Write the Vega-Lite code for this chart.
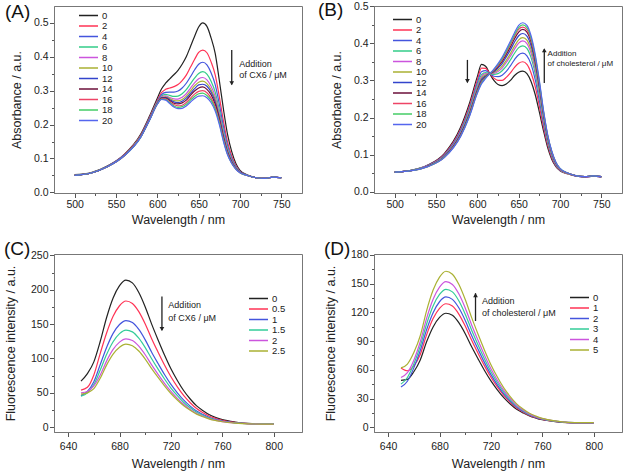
{
"$schema": "https://vega.github.io/schema/vega-lite/v6.json",
"background": "white",
"padding": {"left": 3, "top": 0, "right": 0, "bottom": 0},
"datasets": {
"A": [
{"w":500,"0":0.052,"2":0.051,"4":0.051,"6":0.050,"8":0.050,"10":0.050,"12":0.050,"14":0.050,"16":0.050,"18":0.050,"20":0.050},
{"w":520,"0":0.058,"2":0.057,"4":0.057,"6":0.057,"8":0.057,"10":0.057,"12":0.057,"14":0.057,"16":0.057,"18":0.057,"20":0.057},
{"w":540,"0":0.078,"2":0.077,"4":0.077,"6":0.076,"8":0.076,"10":0.076,"12":0.076,"14":0.076,"16":0.076,"18":0.076,"20":0.076},
{"w":560,"0":0.112,"2":0.111,"4":0.110,"6":0.109,"8":0.109,"10":0.109,"12":0.109,"14":0.108,"16":0.108,"18":0.108,"20":0.108},
{"w":580,"0":0.172,"2":0.169,"4":0.167,"6":0.166,"8":0.165,"10":0.165,"12":0.164,"14":0.164,"16":0.164,"18":0.163,"20":0.163},
{"w":590,"0":0.222,"2":0.218,"4":0.216,"6":0.214,"8":0.213,"10":0.212,"12":0.212,"14":0.211,"16":0.211,"18":0.210,"20":0.210},
{"w":600,"0":0.278,"2":0.271,"4":0.268,"6":0.266,"8":0.265,"10":0.264,"12":0.263,"14":0.262,"16":0.261,"18":0.261,"20":0.260},
{"w":605,"0":0.305,"2":0.294,"4":0.288,"6":0.284,"8":0.282,"10":0.280,"12":0.279,"14":0.278,"16":0.276,"18":0.275,"20":0.274},
{"w":610,"0":0.322,"2":0.304,"4":0.295,"6":0.289,"8":0.285,"10":0.282,"12":0.280,"14":0.278,"16":0.276,"18":0.274,"20":0.272},
{"w":615,"0":0.335,"2":0.308,"4":0.296,"6":0.286,"8":0.280,"10":0.277,"12":0.274,"14":0.271,"16":0.267,"18":0.265,"20":0.262},
{"w":620,"0":0.347,"2":0.312,"4":0.296,"6":0.283,"8":0.276,"10":0.271,"12":0.267,"14":0.263,"16":0.259,"18":0.255,"20":0.252},
{"w":625,"0":0.360,"2":0.318,"4":0.299,"6":0.284,"8":0.275,"10":0.270,"12":0.265,"14":0.261,"16":0.255,"18":0.251,"20":0.247},
{"w":630,"0":0.378,"2":0.330,"4":0.308,"6":0.291,"8":0.281,"10":0.274,"12":0.269,"14":0.264,"16":0.257,"18":0.253,"20":0.248},
{"w":635,"0":0.400,"2":0.346,"4":0.322,"6":0.303,"8":0.291,"10":0.284,"12":0.278,"14":0.272,"16":0.265,"18":0.260,"20":0.255},
{"w":640,"0":0.430,"2":0.369,"4":0.341,"6":0.320,"8":0.307,"10":0.299,"12":0.292,"14":0.286,"16":0.277,"18":0.272,"20":0.266},
{"w":645,"0":0.460,"2":0.392,"4":0.361,"6":0.337,"8":0.323,"10":0.314,"12":0.306,"14":0.299,"16":0.290,"18":0.283,"20":0.277},
{"w":650,"0":0.488,"2":0.413,"4":0.378,"6":0.351,"8":0.335,"10":0.325,"12":0.317,"14":0.308,"16":0.298,"18":0.291,"20":0.284},
{"w":655,"0":0.500,"2":0.420,"4":0.384,"6":0.356,"8":0.339,"10":0.328,"12":0.319,"14":0.311,"16":0.300,"18":0.293,"20":0.285},
{"w":660,"0":0.490,"2":0.412,"4":0.376,"6":0.349,"8":0.332,"10":0.321,"12":0.313,"14":0.304,"16":0.294,"18":0.286,"20":0.279},
{"w":665,"0":0.456,"2":0.385,"4":0.353,"6":0.328,"8":0.313,"10":0.303,"12":0.296,"14":0.288,"16":0.278,"18":0.272,"20":0.265},
{"w":670,"0":0.410,"2":0.347,"4":0.318,"6":0.296,"8":0.283,"10":0.274,"12":0.267,"14":0.260,"16":0.252,"18":0.246,"20":0.240},
{"w":675,"0":0.330,"2":0.282,"4":0.260,"6":0.243,"8":0.233,"10":0.226,"12":0.221,"14":0.216,"16":0.209,"18":0.205,"20":0.200},
{"w":680,"0":0.245,"2":0.210,"4":0.194,"6":0.181,"8":0.174,"10":0.169,"12":0.165,"14":0.161,"16":0.157,"18":0.153,"20":0.150},
{"w":685,"0":0.170,"2":0.148,"4":0.138,"6":0.130,"8":0.125,"10":0.122,"12":0.120,"14":0.117,"16":0.114,"18":0.112,"20":0.110},
{"w":690,"0":0.120,"2":0.107,"4":0.101,"6":0.097,"8":0.094,"10":0.092,"12":0.091,"14":0.089,"16":0.087,"18":0.086,"20":0.085},
{"w":695,"0":0.085,"2":0.079,"4":0.076,"6":0.074,"8":0.072,"10":0.071,"12":0.071,"14":0.070,"16":0.069,"18":0.069,"20":0.068},
{"w":700,"0":0.065,"2":0.062,"4":0.061,"6":0.060,"8":0.060,"10":0.059,"12":0.059,"14":0.059,"16":0.058,"18":0.058,"20":0.058},
{"w":710,"0":0.050,"2":0.049,"4":0.049,"6":0.049,"8":0.049,"10":0.049,"12":0.049,"14":0.049,"16":0.049,"18":0.049,"20":0.049},
{"w":720,"0":0.043,"2":0.043,"4":0.043,"6":0.043,"8":0.043,"10":0.043,"12":0.043,"14":0.043,"16":0.043,"18":0.043,"20":0.043},
{"w":730,"0":0.041,"2":0.041,"4":0.041,"6":0.041,"8":0.041,"10":0.041,"12":0.041,"14":0.041,"16":0.041,"18":0.041,"20":0.041},
{"w":740,"0":0.045,"2":0.045,"4":0.045,"6":0.045,"8":0.045,"10":0.045,"12":0.045,"14":0.045,"16":0.045,"18":0.045,"20":0.045},
{"w":750,"0":0.043,"2":0.043,"4":0.043,"6":0.043,"8":0.043,"10":0.043,"12":0.043,"14":0.043,"16":0.043,"18":0.043,"20":0.043}
],
"B": [
{"w":500,"0":0.053,"2":0.053,"4":0.053,"6":0.053,"8":0.053,"10":0.053,"12":0.053,"14":0.053,"16":0.053,"18":0.053,"20":0.053},
{"w":520,"0":0.058,"2":0.058,"4":0.058,"6":0.058,"8":0.057,"10":0.057,"12":0.057,"14":0.057,"16":0.057,"18":0.057,"20":0.057},
{"w":540,"0":0.072,"2":0.071,"4":0.071,"6":0.070,"8":0.070,"10":0.069,"12":0.069,"14":0.069,"16":0.068,"18":0.068,"20":0.068},
{"w":560,"0":0.103,"2":0.101,"4":0.099,"6":0.097,"8":0.096,"10":0.095,"12":0.094,"14":0.094,"16":0.093,"18":0.093,"20":0.092},
{"w":580,"0":0.175,"2":0.170,"4":0.166,"6":0.162,"8":0.160,"10":0.158,"12":0.156,"14":0.154,"16":0.152,"18":0.151,"20":0.150},
{"w":590,"0":0.235,"2":0.228,"4":0.222,"6":0.217,"8":0.213,"10":0.211,"12":0.208,"14":0.205,"16":0.203,"18":0.202,"20":0.200},
{"w":600,"0":0.310,"2":0.301,"4":0.293,"6":0.287,"8":0.282,"10":0.279,"12":0.275,"14":0.271,"16":0.269,"18":0.267,"20":0.265},
{"w":605,"0":0.343,"2":0.333,"4":0.323,"6":0.315,"8":0.310,"10":0.306,"12":0.302,"14":0.297,"16":0.295,"18":0.293,"20":0.290},
{"w":610,"0":0.338,"2":0.332,"4":0.326,"6":0.321,"8":0.318,"10":0.315,"12":0.312,"14":0.310,"16":0.308,"18":0.307,"20":0.305},
{"w":615,"0":0.318,"2":0.318,"4":0.318,"6":0.318,"8":0.318,"10":0.318,"12":0.318,"14":0.318,"16":0.318,"18":0.318,"20":0.318},
{"w":620,"0":0.300,"2":0.306,"4":0.311,"6":0.316,"8":0.319,"10":0.321,"12":0.323,"14":0.326,"16":0.327,"18":0.329,"20":0.330},
{"w":625,"0":0.289,"2":0.300,"4":0.310,"6":0.318,"8":0.324,"10":0.328,"12":0.333,"14":0.337,"16":0.340,"18":0.342,"20":0.345},
{"w":630,"0":0.286,"2":0.300,"4":0.314,"6":0.326,"8":0.333,"10":0.338,"12":0.345,"14":0.351,"16":0.355,"18":0.358,"20":0.362},
{"w":635,"0":0.290,"2":0.308,"4":0.324,"6":0.338,"8":0.348,"10":0.354,"12":0.363,"14":0.370,"16":0.375,"18":0.378,"20":0.383},
{"w":640,"0":0.300,"2":0.320,"4":0.339,"6":0.355,"8":0.365,"10":0.372,"12":0.382,"14":0.390,"16":0.396,"18":0.400,"20":0.405},
{"w":645,"0":0.313,"2":0.335,"4":0.356,"6":0.373,"8":0.384,"10":0.392,"12":0.403,"14":0.412,"16":0.418,"18":0.422,"20":0.428},
{"w":650,"0":0.322,"2":0.346,"4":0.369,"6":0.388,"8":0.400,"10":0.409,"12":0.420,"14":0.430,"16":0.437,"18":0.442,"20":0.448},
{"w":655,"0":0.325,"2":0.350,"4":0.373,"6":0.393,"8":0.406,"10":0.415,"12":0.426,"14":0.437,"16":0.443,"18":0.449,"20":0.455},
{"w":660,"0":0.318,"2":0.343,"4":0.366,"6":0.386,"8":0.399,"10":0.408,"12":0.419,"14":0.430,"16":0.436,"18":0.442,"20":0.448},
{"w":665,"0":0.297,"2":0.320,"4":0.343,"6":0.361,"8":0.373,"10":0.382,"12":0.393,"14":0.403,"16":0.409,"18":0.414,"20":0.420},
{"w":670,"0":0.262,"2":0.283,"4":0.302,"6":0.318,"8":0.329,"10":0.337,"12":0.346,"14":0.355,"16":0.360,"18":0.365,"20":0.370},
{"w":675,"0":0.215,"2":0.231,"4":0.246,"6":0.259,"8":0.268,"10":0.274,"12":0.281,"14":0.288,"16":0.292,"18":0.296,"20":0.300},
{"w":680,"0":0.165,"2":0.175,"4":0.185,"6":0.194,"8":0.199,"10":0.203,"12":0.208,"14":0.212,"16":0.215,"18":0.217,"20":0.220},
{"w":685,"0":0.120,"2":0.127,"4":0.133,"6":0.138,"8":0.142,"10":0.144,"12":0.147,"14":0.150,"16":0.152,"18":0.153,"20":0.155},
{"w":690,"0":0.088,"2":0.092,"4":0.096,"6":0.099,"8":0.102,"10":0.103,"12":0.105,"14":0.107,"16":0.108,"18":0.109,"20":0.110},
{"w":695,"0":0.068,"2":0.070,"4":0.072,"6":0.074,"8":0.075,"10":0.076,"12":0.077,"14":0.078,"16":0.079,"18":0.079,"20":0.080},
{"w":700,"0":0.057,"2":0.058,"4":0.059,"6":0.060,"8":0.061,"10":0.061,"12":0.062,"14":0.062,"16":0.062,"18":0.063,"20":0.063},
{"w":710,"0":0.048,"2":0.048,"4":0.049,"6":0.049,"8":0.049,"10":0.049,"12":0.050,"14":0.050,"16":0.050,"18":0.050,"20":0.050},
{"w":720,"0":0.042,"2":0.042,"4":0.042,"6":0.043,"8":0.043,"10":0.043,"12":0.043,"14":0.043,"16":0.043,"18":0.043,"20":0.043},
{"w":730,"0":0.040,"2":0.040,"4":0.040,"6":0.041,"8":0.041,"10":0.041,"12":0.041,"14":0.041,"16":0.041,"18":0.041,"20":0.041},
{"w":740,"0":0.042,"2":0.042,"4":0.042,"6":0.043,"8":0.043,"10":0.043,"12":0.043,"14":0.043,"16":0.043,"18":0.043,"20":0.043},
{"w":750,"0":0.040,"2":0.040,"4":0.040,"6":0.041,"8":0.041,"10":0.041,"12":0.041,"14":0.041,"16":0.041,"18":0.041,"20":0.041}
],
"C": [
{"w":650,"c0":67,"c05":54,"c1":46,"c15":45,"c2":50,"c25":48},
{"w":655,"c0":78,"c05":58,"c1":52,"c15":50,"c2":52,"c25":50},
{"w":660,"c0":95,"c05":76,"c1":66,"c15":62,"c2":60,"c25":56},
{"w":665,"c0":125,"c05":107.5,"c1":91.1,"c15":83.1,"c2":75.8,"c25":71.3},
{"w":670,"c0":160,"c05":137.4,"c1":116.3,"c15":106.0,"c2":96.5,"c25":90.7},
{"w":675,"c0":188,"c05":161.3,"c1":136.5,"c15":124.3,"c2":113.1,"c25":106.3},
{"w":680,"c0":206,"c05":176.7,"c1":149.4,"c15":136.1,"c2":123.8,"c25":116.3},
{"w":685,"c0":214,"c05":183.6,"c1":155.2,"c15":141.3,"c2":128.5,"c25":120.8},
{"w":690,"c0":210,"c05":180.1,"c1":152.3,"c15":138.7,"c2":126.2,"c25":118.5},
{"w":695,"c0":196,"c05":168.2,"c1":142.2,"c15":129.6,"c2":117.9,"c25":110.8},
{"w":700,"c0":175,"c05":150.2,"c1":127.1,"c15":115.8,"c2":105.4,"c25":99.1},
{"w":705,"c0":150,"c05":128.8,"c1":109.1,"c15":99.5,"c2":90.6,"c25":85.2},
{"w":710,"c0":127,"c05":109.2,"c1":92.6,"c15":84.4,"c2":76.9,"c25":72.4},
{"w":715,"c0":105,"c05":90.4,"c1":76.7,"c15":70.1,"c2":63.9,"c25":60.2},
{"w":720,"c0":85,"c05":73.3,"c1":62.3,"c15":57.0,"c2":52.0,"c25":49.0},
{"w":725,"c0":68,"c05":58.7,"c1":50.1,"c15":45.9,"c2":42.0,"c25":39.6},
{"w":730,"c0":53,"c05":45.9,"c1":39.3,"c15":36.0,"c2":33.1,"c25":31.2},
{"w":735,"c0":41,"c05":35.6,"c1":30.6,"c15":28.2,"c2":25.9,"c25":24.6},
{"w":740,"c0":31,"c05":27.1,"c1":23.4,"c15":21.7,"c2":20.0,"c25":19.0},
{"w":745,"c0":24,"c05":21.1,"c1":18.4,"c15":17.1,"c2":15.9,"c25":15.1},
{"w":750,"c0":18,"c05":16.0,"c1":14.1,"c15":13.2,"c2":12.3,"c25":11.8},
{"w":755,"c0":14,"c05":12.6,"c1":11.2,"c15":10.5,"c2":9.9,"c25":9.6},
{"w":760,"c0":11,"c05":10.0,"c1":9.0,"c15":8.6,"c2":8.2,"c25":7.9},
{"w":770,"c0":7.5,"c05":7.0,"c1":6.5,"c15":6.3,"c2":6.1,"c25":5.9},
{"w":780,"c0":5.5,"c05":5.3,"c1":5.1,"c15":5.0,"c2":4.9,"c25":4.8},
{"w":790,"c0":5,"c05":4.9,"c1":4.7,"c15":4.7,"c2":4.6,"c25":4.6},
{"w":800,"c0":5,"c05":4.9,"c1":4.7,"c15":4.7,"c2":4.6,"c25":4.6}
],
"D": [
{"w":650,"0":49,"1":62,"2":42,"3":45,"4":52,"5":62},
{"w":655,"0":50,"1":59,"2":48,"3":52,"4":57,"5":66},
{"w":660,"0":58,"1":64,"2":62,"3":66,"4":70,"5":78},
{"w":665,"0":70.3,"1":76.0,"2":80.1,"3":84.7,"4":89.3,"5":95.6},
{"w":670,"0":89.5,"1":96.8,"2":102.1,"3":108.1,"4":114.0,"5":122.1},
{"w":675,"0":104.8,"1":113.5,"2":119.7,"3":126.7,"4":133.7,"5":143.3},
{"w":680,"0":114.7,"1":124.2,"2":131.1,"3":138.7,"4":146.4,"5":156.9},
{"w":685,"0":119.1,"1":129.0,"2":136.1,"3":144.1,"4":152.1,"5":163.0},
{"w":690,"0":116.9,"1":126.6,"2":133.6,"3":141.4,"4":149.2,"5":159.9},
{"w":695,"0":109.2,"1":118.2,"2":124.8,"3":132.1,"4":139.4,"5":149.3},
{"w":700,"0":97.7,"1":105.7,"2":111.6,"3":118.1,"4":124.6,"5":133.4},
{"w":705,"0":84.0,"1":90.9,"2":95.8,"3":101.4,"4":106.9,"5":114.5},
{"w":710,"0":71.4,"1":77.2,"2":81.4,"3":86.0,"4":90.7,"5":97.1},
{"w":715,"0":59.3,"1":64.1,"2":67.5,"3":71.4,"4":75.2,"5":80.5},
{"w":720,"0":48.4,"1":52.2,"2":55.0,"3":58.0,"4":61.1,"5":65.3},
{"w":725,"0":39.1,"1":42.1,"2":44.3,"3":46.7,"4":49.1,"5":52.4},
{"w":730,"0":30.9,"1":33.2,"2":34.8,"3":36.7,"4":38.5,"5":41.1},
{"w":735,"0":24.3,"1":26.0,"2":27.3,"3":28.7,"4":30.1,"5":32.0},
{"w":740,"0":18.8,"1":20.1,"2":21.0,"3":22.0,"4":23.0,"5":24.4},
{"w":745,"0":15.0,"1":15.9,"2":16.6,"3":17.3,"4":18.1,"5":19.1},
{"w":750,"0":11.7,"1":12.3,"2":12.8,"3":13.3,"4":13.9,"5":14.6},
{"w":755,"0":9.5,"1":10.0,"2":10.3,"3":10.7,"4":11.1,"5":11.6},
{"w":760,"0":7.8,"1":8.2,"2":8.4,"3":8.7,"4":8.9,"5":9.3},
{"w":770,"0":5.9,"1":6.1,"2":6.2,"3":6.3,"4":6.5,"5":6.6},
{"w":780,"0":4.8,"1":4.9,"2":4.9,"3":5.0,"4":5.1,"5":5.1},
{"w":790,"0":4.5,"1":4.6,"2":4.6,"3":4.7,"4":4.7,"5":4.8},
{"w":800,"0":4.5,"1":4.6,"2":4.6,"3":4.7,"4":4.7,"5":4.8}
]
},
"concat": [
{
"width": 248, "height": 187,
"title": {"text": "(A)", "orient": "none", "anchor": "start", "frame": "group", "dx": -49, "dy": -3, "offset": 0, "baseline": "top", "fontSize": 19, "fontWeight": "normal", "font": "Liberation Sans", "color": "#111"},
"layer": [
{"data": {"name": "A"}, "transform": [{"fold": ["0","2","4","6","8","10","12","14","16","18","20"], "as": ["c", "v"]}],
 "mark": {"type": "line", "strokeWidth": 1.2, "interpolate": "monotone"},
 "encoding": {
  "x": {"field": "w", "type": "quantitative", "scale": {"domain": [475, 775], "nice": false, "zero": false},
        "axis": {"title": "Wavelength / nm", "tickCount": 100, "values": [500,525,550,575,600,625,650,675,700,725,750], "labelExpr": "datum.value % 50 == 0 ? datum.label : ''", "tickSize": {"condition": {"test": "datum.value % 50 != 0", "value": 2.5}, "value": 4.5}}},
  "y": {"field": "v", "type": "quantitative", "scale": {"domain": [-0.002, 0.55], "nice": false, "zero": false},
        "axis": {"title": "Absorbance / a.u.", "tickCount": 100, "values": [0,0.05,0.1,0.15,0.2,0.25,0.3,0.35,0.4,0.45,0.5], "labelExpr": "round(datum.value*100) % 10 == 0 ? format(datum.value, '.1f') : ''", "tickSize": {"condition": {"test": "round(datum.value*100) % 10 != 0", "value": 2.5}, "value": 4.5}}},
  "color": {"field": "c", "type": "nominal", "scale": {"domain": ["0","2","4","6","8","10","12","14","16","18","20"], "range": ["#222222","#ff3355","#4455dd","#33cc88","#cc55dd","#aab133","#3344cc","#6b0f3a","#ee4466","#44cc66","#5566ee"]},
        "legend": {"orient": "none", "legendX": 24, "legendY": 5}}
 }},
{"data": {"values": [{"w": 690, "v": 0.42, "v2": 0.318}]}, "mark": {"type": "rule", "strokeWidth": 1.3, "color": "#222"},
 "encoding": {"x": {"field": "w", "type": "quantitative"}, "y": {"field": "v", "type": "quantitative"}, "y2": {"field": "v2"}}},
{"data": {"values": [{"w": 690, "v": 0.322}]}, "mark": {"type": "point", "shape": "triangle-down", "filled": true, "size": 22, "color": "#222", "opacity": 1},
 "encoding": {"x": {"field": "w", "type": "quantitative"}, "y": {"field": "v", "type": "quantitative"}}},
{"data": {"values": [{"w": 699, "v": 0.379, "t": "Addition"}, {"w": 699, "v": 0.346, "t": "of CX6 / μM"}]},
 "mark": {"type": "text", "align": "left", "baseline": "middle", "fontSize": 9, "font": "Liberation Sans", "color": "#222"},
 "encoding": {"x": {"field": "w", "type": "quantitative"}, "y": {"field": "v", "type": "quantitative"}, "text": {"field": "t"}}}
]
},
{
"width": 248, "height": 187,
"title": {"text": "(B)", "orient": "none", "anchor": "start", "frame": "group", "dx": -56, "dy": -5, "offset": 0, "baseline": "top", "fontSize": 19, "fontWeight": "normal", "font": "Liberation Sans", "color": "#111"},
"layer": [
{"data": {"name": "B"}, "transform": [{"fold": ["0","2","4","6","8","10","12","14","16","18","20"], "as": ["c", "v"]}],
 "mark": {"type": "line", "strokeWidth": 1.2, "interpolate": "monotone"},
 "encoding": {
  "x": {"field": "w", "type": "quantitative", "scale": {"domain": [475, 775], "nice": false, "zero": false},
        "axis": {"title": "Wavelength / nm", "tickCount": 100, "values": [500,525,550,575,600,625,650,675,700,725,750], "labelExpr": "datum.value % 50 == 0 ? datum.label : ''", "tickSize": {"condition": {"test": "datum.value % 50 != 0", "value": 2.5}, "value": 4.5}}},
  "y": {"field": "v", "type": "quantitative", "scale": {"domain": [-0.003, 0.5], "nice": false, "zero": false},
        "axis": {"title": "Absorbance / a.u.", "tickCount": 100, "values": [0,0.05,0.1,0.15,0.2,0.25,0.3,0.35,0.4,0.45,0.5], "labelExpr": "round(datum.value*100) % 10 == 0 ? format(datum.value, '.1f') : ''", "tickSize": {"condition": {"test": "round(datum.value*100) % 10 != 0", "value": 2.5}, "value": 4.5}}},
  "color": {"field": "c", "type": "nominal", "scale": {"domain": ["0","2","4","6","8","10","12","14","16","18","20"], "range": ["#222222","#ff3355","#4455dd","#33cc88","#cc55dd","#aab133","#3344cc","#6b0f3a","#ee4466","#44cc66","#5566ee"]},
        "legend": {"orient": "none", "legendX": 18, "legendY": 9}}
 }},
{"data": {"values": [{"w": 588, "v": 0.355, "v2": 0.295}, {"w": 681, "v": 0.293, "v2": 0.384}]}, "mark": {"type": "rule", "strokeWidth": 1.3, "color": "#222"},
 "encoding": {"x": {"field": "w", "type": "quantitative"}, "y": {"field": "v", "type": "quantitative"}, "y2": {"field": "v2"}}},
{"data": {"values": [{"w": 588, "v": 0.298}]}, "mark": {"type": "point", "shape": "triangle-down", "filled": true, "size": 22, "color": "#222", "opacity": 1},
 "encoding": {"x": {"field": "w", "type": "quantitative"}, "y": {"field": "v", "type": "quantitative"}}},
{"data": {"values": [{"w": 681, "v": 0.381}]}, "mark": {"type": "point", "shape": "triangle-up", "filled": true, "size": 22, "color": "#222", "opacity": 1},
 "encoding": {"x": {"field": "w", "type": "quantitative"}, "y": {"field": "v", "type": "quantitative"}}},
{"data": {"values": [{"w": 685, "v": 0.37, "t": "Addition"}, {"w": 685, "v": 0.343, "t": "of cholesterol / μM"}]},
 "mark": {"type": "text", "align": "left", "baseline": "middle", "fontSize": 8, "font": "Liberation Sans", "color": "#222"},
 "encoding": {"x": {"field": "w", "type": "quantitative"}, "y": {"field": "v", "type": "quantitative"}, "text": {"field": "t"}}}
]
},
{
"width": 248, "height": 178,
"title": {"text": "(C)", "orient": "none", "anchor": "start", "frame": "group", "dx": -50, "dy": -14, "offset": 0, "baseline": "top", "fontSize": 19, "fontWeight": "normal", "font": "Liberation Sans", "color": "#111"},
"layer": [
{"data": {"name": "C"}, "transform": [{"fold": ["c0","c05","c1","c15","c2","c25"], "as": ["c", "v"]}],
 "mark": {"type": "line", "strokeWidth": 1.2, "interpolate": "monotone"},
 "encoding": {
  "x": {"field": "w", "type": "quantitative", "scale": {"domain": [629, 822], "nice": false, "zero": false},
        "axis": {"title": "Wavelength / nm", "labelPadding": 4.5, "titlePadding": 6, "tickCount": 100, "values": [640,660,680,700,720,740,760,780,800], "labelExpr": "(datum.value - 640) % 40 == 0 ? datum.label : ''", "tickSize": {"condition": {"test": "(datum.value - 640) % 40 != 0", "value": 2.5}, "value": 4.5}}},
  "y": {"field": "v", "type": "quantitative", "scale": {"domain": [-7, 252], "nice": false, "zero": false},
        "axis": {"title": "Fluorescence intensity / a.u.", "titlePadding": 13, "tickCount": 100, "values": [0,25,50,75,100,125,150,175,200,225,250], "labelExpr": "datum.value % 50 == 0 ? datum.label : ''", "tickSize": {"condition": {"test": "datum.value % 50 != 0", "value": 2.5}, "value": 4.5}}},
  "color": {"field": "c", "type": "nominal", "scale": {"domain": ["c0","c05","c1","c15","c2","c25"], "range": ["#222222","#ff3355","#4455dd","#33cc99","#cc55dd","#aab133"]},
        "legend": {"orient": "none", "legendX": 194, "legendY": 40, "labelExpr": "replace(replace(datum.label, 'c', ''), '5', '.5')"}}
 }},
{"data": {"values": [{"w": 713, "v": 190, "v2": 141}]}, "mark": {"type": "rule", "strokeWidth": 1.3, "color": "#222"},
 "encoding": {"x": {"field": "w", "type": "quantitative"}, "y": {"field": "v", "type": "quantitative"}, "y2": {"field": "v2"}}},
{"data": {"values": [{"w": 713, "v": 143}]}, "mark": {"type": "point", "shape": "triangle-down", "filled": true, "size": 22, "color": "#222", "opacity": 1},
 "encoding": {"x": {"field": "w", "type": "quantitative"}, "y": {"field": "v", "type": "quantitative"}}},
{"data": {"values": [{"w": 718, "v": 178, "t": "Addition"}, {"w": 718, "v": 159, "t": "of CX6 / μM"}]},
 "mark": {"type": "text", "align": "left", "baseline": "middle", "fontSize": 9, "font": "Liberation Sans", "color": "#222"},
 "encoding": {"x": {"field": "w", "type": "quantitative"}, "y": {"field": "v", "type": "quantitative"}, "text": {"field": "t"}}}
]
},
{
"width": 248, "height": 178,
"title": {"text": "(D)", "orient": "none", "anchor": "start", "frame": "group", "dx": -50, "dy": -14, "offset": 0, "baseline": "top", "fontSize": 19, "fontWeight": "normal", "font": "Liberation Sans", "color": "#111"},
"layer": [
{"data": {"name": "D"}, "transform": [{"fold": ["0","1","2","3","4","5"], "as": ["c", "v"]}],
 "mark": {"type": "line", "strokeWidth": 1.2, "interpolate": "monotone"},
 "encoding": {
  "x": {"field": "w", "type": "quantitative", "scale": {"domain": [629, 822], "nice": false, "zero": false},
        "axis": {"title": "Wavelength / nm", "labelPadding": 4.5, "titlePadding": 6, "tickCount": 100, "values": [640,660,680,700,720,740,760,780,800], "labelExpr": "(datum.value - 640) % 40 == 0 ? datum.label : ''", "tickSize": {"condition": {"test": "(datum.value - 640) % 40 != 0", "value": 2.5}, "value": 4.5}}},
  "y": {"field": "v", "type": "quantitative", "scale": {"domain": [-5, 181], "nice": false, "zero": false},
        "axis": {"title": "Fluorescence intensity / a.u.", "titlePadding": 13, "tickCount": 100, "values": [0,15,30,45,60,75,90,105,120,135,150,165,180], "labelExpr": "datum.value % 30 == 0 ? datum.label : ''", "tickSize": {"condition": {"test": "datum.value % 30 != 0", "value": 2.5}, "value": 4.5}}},
  "color": {"field": "c", "type": "nominal", "scale": {"domain": ["0","1","2","3","4","5"], "range": ["#222222","#ff3355","#4455dd","#33cc99","#cc55dd","#aab133"]},
        "legend": {"orient": "none", "legendX": 195, "legendY": 39}}
 }},
{"data": {"values": [{"w": 708, "v": 111, "v2": 140}]}, "mark": {"type": "rule", "strokeWidth": 1.3, "color": "#222"},
 "encoding": {"x": {"field": "w", "type": "quantitative"}, "y": {"field": "v", "type": "quantitative"}, "y2": {"field": "v2"}}},
{"data": {"values": [{"w": 708, "v": 138}]}, "mark": {"type": "point", "shape": "triangle-up", "filled": true, "size": 22, "color": "#222", "opacity": 1},
 "encoding": {"x": {"field": "w", "type": "quantitative"}, "y": {"field": "v", "type": "quantitative"}}},
{"data": {"values": [{"w": 713, "v": 132, "t": "Addition"}, {"w": 713, "v": 119, "t": "of cholesterol / μM"}]},
 "mark": {"type": "text", "align": "left", "baseline": "middle", "fontSize": 9, "font": "Liberation Sans", "color": "#222"},
 "encoding": {"x": {"field": "w", "type": "quantitative"}, "y": {"field": "v", "type": "quantitative"}, "text": {"field": "t"}}}
]
}
],
"columns": 2,
"spacing": {"row": 61, "column": 72},
"bounds": "flush",
"resolve": {"scale": {"color": "independent"}, "legend": {"color": "independent"}},
"config": {
 "view": {"stroke": "#777", "strokeWidth": 1},
 "font": "Liberation Sans",
 "axis": {"grid": false, "domainColor": "#777", "tickColor": "#555", "labelFont": "Liberation Sans", "titleFont": "Liberation Sans", "labelFontSize": 10.5, "titleFontSize": 12.5, "titleFontWeight": "normal", "labelColor": "#222", "titleColor": "#222", "labelPadding": 1.5, "labelOverlap": false, "labelFlush": false},
 "axisX": {"titlePadding": 4},
 "axisY": {"titlePadding": 10},
 "legend": {"title": null, "symbolType": "stroke", "symbolSize": 361, "symbolStrokeWidth": 1.5, "clipHeight": 9, "rowPadding": 0.5, "labelFontSize": 9.5, "labelFont": "Liberation Sans", "labelColor": "#222", "labelOffset": 3, "padding": 0}
}
}
